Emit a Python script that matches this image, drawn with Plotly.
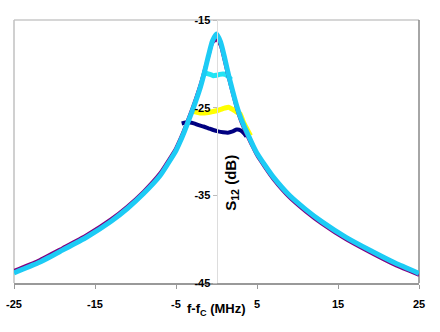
import plotly.graph_objects as go

# shared frequency offsets (MHz) for the two full resonance curves
freq = [-25, -22, -19, -16, -13, -11, -9, -7, -6, -5, -4.5, -4, -3.5, -3, -2.5, -2, -1.5, -1, -0.5, 0,
        0.5, 1, 1.5, 2, 2.5, 3, 3.5, 4, 4.5, 5, 6, 7, 9, 11, 13, 16, 19, 22, 25]

s12_skyblue = [-43.85, -42.7, -41.25, -39.75, -37.95, -36.5, -34.8, -32.8, -31.4, -29.9, -28.9, -27.8,
               -26.6, -25.4, -24.1, -22.7, -21.0, -19.1, -17.4, -16.6,
               -17.5, -19.3, -21.3, -23.1, -24.8, -26.2, -27.3, -28.3, -29.3, -30.2, -31.6, -32.9,
               -35.0, -36.6, -38.0, -39.8, -41.3, -42.7, -43.9]

s12_purple = [-43.6, -42.45, -41.0, -39.5, -37.7, -36.25, -34.55, -32.5, -31.1, -29.6, -28.6, -27.5,
              -26.3, -25.1, -23.8, -22.4, -20.8, -19.2, -17.6, -17.25,
              -17.9, -19.7, -21.6, -23.4, -25.1, -26.5, -27.6, -28.6, -29.55, -30.45, -31.85, -33.15,
              -35.25, -36.85, -38.25, -40.05, -41.55, -42.95, -44.1]

freq_aqua = [-1.6, -1.2, -0.8, -0.4, 0, 0.4, 0.8, 1.2, 1.5, 1.8]
s12_aqua = [-21.0, -21.1, -21.2, -21.35, -21.3, -21.2, -21.15, -21.25, -21.5, -21.8]

freq_yellow = [-3.0, -2.5, -2, -1.5, -1, -0.5, 0, 0.5, 1, 1.5, 2, 2.5, 2.9, 3.3, 3.8, 4.2]
s12_yellow = [-25.4, -25.5, -25.6, -25.6, -25.55, -25.45, -25.35, -25.2, -25.05, -24.95, -25.2, -25.5,
              -25.7, -26.6, -27.5, -28.2]

freq_navy = [-4.3, -3.8, -3.3, -2.8, -2.2, -1.6, -1, -0.4, 0.2, 0.8, 1.4, 2.0, 2.5, 3.0, 3.4, 3.7]
s12_navy = [-26.8, -26.7, -26.7, -26.8, -27.0, -27.15, -27.35, -27.55, -27.7, -27.8, -27.85, -27.7,
            -27.5, -27.6, -27.95, -28.3]

x_ticks = [-25, -15, -5, 5, 15, 25]
y_ticks = [-45, -35, -25, -15]

FONT = "Liberation Sans, Arial, sans-serif"

fig = go.Figure()
series = [
    (freq_navy, s12_navy, "#000080", 4),
    (freq_yellow, s12_yellow, "#FFFF00", 5),
    (freq_aqua, s12_aqua, "#22E4F4", 5),
    (freq, s12_purple, "#800080", 3.5),
    (freq, s12_skyblue, "#1CCBF5", 5),
]
for xs, ys, col, w in series:
    fig.add_trace(go.Scatter(x=xs, y=ys, mode="lines",
                             line=dict(color=col, width=w, shape="spline", smoothing=0.6),
                             showlegend=False, hoverinfo="skip"))

fig.update_layout(
    width=440, height=332,
    margin=dict(l=14, r=21, t=20, b=49, autoexpand=False),
    paper_bgcolor="white", plot_bgcolor="white",
    font=dict(family=FONT, size=11, color="black"),
    xaxis=dict(range=[-25, 25], tickvals=x_ticks, ticktext=[str(v) for v in x_ticks],
               showgrid=False, zeroline=False, showline=True, linecolor="#999999", linewidth=1.5,
               mirror=False, ticks="outside", ticklen=4, tickcolor="#999999",
               tickfont=dict(family=FONT, size=11, color="black", weight="bold"),
               ticklabelstandoff=6, ticklabeloverflow="allow", automargin=False, fixedrange=True),
    yaxis=dict(range=[-45, -15], tickvals=y_ticks, ticktext=[str(v) for v in y_ticks],
               showgrid=False, zeroline=False, showline=True, linecolor="#DDDDDD", linewidth=1.5,
               anchor="free", position=0.5, side="left",
               ticks="outside", ticklen=4, tickcolor="#BBBBBB",
               tickfont=dict(family=FONT, size=11, color="black", weight="bold"),
               ticklabeloverflow="allow", automargin=False, fixedrange=True),
    shapes=[
        dict(type="line", xref="paper", yref="paper", x0=0, x1=1, y0=1, y1=1,
             line=dict(color="#C8C8C8", width=1.5), layer="below"),
        dict(type="line", xref="paper", yref="paper", x0=0, x1=0, y0=0, y1=1,
             line=dict(color="#C0C0C0", width=1.5), layer="below"),
        dict(type="line", xref="paper", yref="paper", x0=1, x1=1, y0=0, y1=1,
             line=dict(color="#888888", width=1.5), layer="below"),
    ],
    annotations=[
        dict(text="f-f<sub>C</sub> (MHz)", xref="paper", yref="paper", x=0.5, y=-0.1,
             xanchor="center", yanchor="middle", showarrow=False,
             font=dict(family=FONT, size=13, color="black", weight="bold")),
        dict(text="S<sub>12</sub> (dB)", xref="paper", yref="paper", x=0.535, y=0.38,
             xanchor="center", yanchor="middle", showarrow=False, textangle=-90,
             font=dict(family=FONT, size=15, color="black", weight="bold")),
    ],
)

fig.write_html("out.html", config={"displayModeBar": False, "staticPlot": True},
               post_script="document.body.style.margin='0';")
